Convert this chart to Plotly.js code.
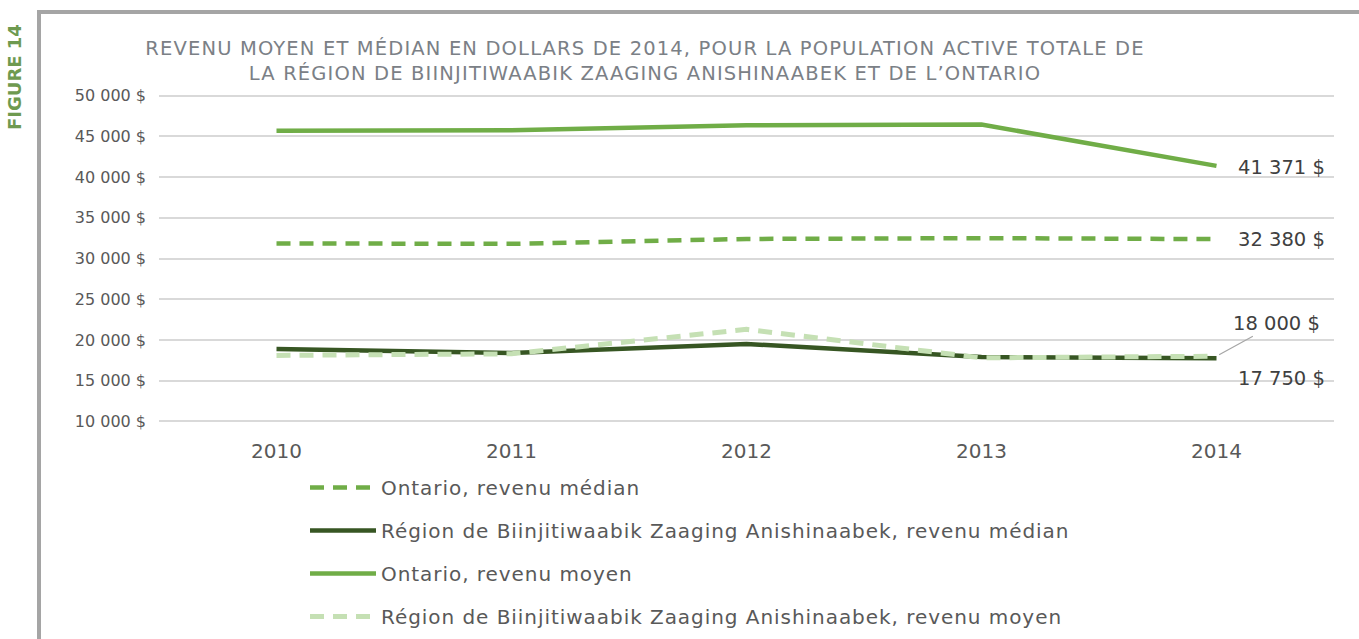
<!DOCTYPE html>
<html><head><meta charset="utf-8">
<script src="https://cdn.plot.ly/plotly-3.0.1.min.js"></script>
<style>
html,body{margin:0;padding:0;background:#fff;}
#wrap{position:relative;width:1359px;height:639px;overflow:hidden;}
#frame{position:absolute;left:37px;top:10px;width:1400px;height:700px;border-left:4px solid #a5a5a5;border-top:4px solid #a5a5a5;box-sizing:border-box;}
#chart{position:absolute;left:0;top:0;width:1359px;height:639px;}
.gtitle{letter-spacing:1.15px;}
.legendtext{letter-spacing:0.95px;}
</style></head>
<body><div id="wrap"><div id="frame"></div><div id="chart"></div></div>
<script>
const years = ['2010','2011','2012','2013','2014'];
const ontarioMedian = [31850, 31800, 32400, 32500, 32380];
const regionMedian = [18900, 18400, 19500, 17900, 17750];
const ontarioMean = [45700, 45750, 46350, 46450, 41371];
const regionMean = [18100, 18300, 21300, 17800, 18000];
const seriesNames = [
  'Ontario, revenu médian',
  'Région de Biinjitiwaabik Zaaging Anishinaabek, revenu médian',
  'Ontario, revenu moyen',
  'Région de Biinjitiwaabik Zaaging Anishinaabek, revenu moyen'
];
const yTicks = [10000,15000,20000,25000,30000,35000,40000,45000,50000];
const yTickText = ['10 000 $','15 000 $','20 000 $','25 000 $','30 000 $','35 000 $','40 000 $','45 000 $','50 000 $'];
const titleText = 'REVENU MOYEN ET MÉDIAN EN DOLLARS DE 2014, POUR LA POPULATION ACTIVE TOTALE DE<br>LA RÉGION DE BIINJITIWAABIK ZAAGING ANISHINAABEK ET DE L’ONTARIO';

const F = '"DejaVu Sans", sans-serif';
const txt = '#595959';

const traces = [
  {x: years, y: ontarioMedian, name: seriesNames[0], mode:'lines', legendgroup:'a',
   line:{color:'#70ad47', width:4.5, dash:'14px,9px'}},
  {x: years, y: regionMedian, name: seriesNames[1], mode:'lines', legendgroup:'b',
   line:{color:'#375623', width:4.5}},
  {x: years, y: ontarioMean, name: seriesNames[2], mode:'lines', legendgroup:'c',
   line:{color:'#70ad47', width:4.5}},
  {x: years, y: regionMean, name: seriesNames[3], mode:'lines', legendgroup:'d',
   line:{color:'#c5e0b4', width:5, dash:'14px,9px'}}
];

function fmt(v){ return String(v).replace(/\B(?=(\d{3})+(?!\d))/g,' ') + ' $'; }

const PT = 94, PB = 423, PH = PB - PT;
const layout = {
  width:1359, height:639,
  margin:{l:159, r:25, t:PT, b:639-PB, autoexpand:false},
  paper_bgcolor:'rgba(0,0,0,0)', plot_bgcolor:'rgba(0,0,0,0)',
  font:{family:F, color:txt},
  title:{text:titleText, font:{family:F, size:19.5, color:'#7b8086'},
    xref:'container', x:645/1359, xanchor:'center', yref:'container', y:1-55/639, yanchor:'top'},
  xaxis:{type:'category', range:[-0.5,4.5], showgrid:false, zeroline:false, showline:false,
    ticks:'', tickfont:{size:20, color:txt, family:F}, ticklabelstandoff:14, fixedrange:true},
  yaxis:{range:[9800,50200], tickvals:yTicks, ticktext:yTickText, showgrid:true,
    gridcolor:'#d9d9d9', gridwidth:2, zeroline:false, showline:false, ticks:'',
    tickfont:{size:16, color:txt, family:F}, ticklabelstandoff:12, fixedrange:true},
  showlegend:true,
  legend:{orientation:'v', xref:'paper', x:(305-159)/1175, xanchor:'left',
    yref:'paper', y:-(468-PB)/PH, yanchor:'top',
    font:{size:20, color:txt, family:F}, tracegroupgap:14, itemwidth:66, bgcolor:'rgba(0,0,0,0)'},
  annotations:[
    {xref:'x', yref:'y', x:4, y:ontarioMean[4], text:fmt(ontarioMean[4]), showarrow:false,
     xanchor:'left', xshift:19, yshift:-2, font:{size:19.5, color:'#404040'}},
    {xref:'x', yref:'y', x:4, y:ontarioMedian[4], text:fmt(ontarioMedian[4]), showarrow:false,
     xanchor:'left', xshift:19, yshift:0, font:{size:19.5, color:'#404040'}},
    {xref:'x', yref:'y', x:4, y:regionMean[4], text:fmt(regionMean[4]), showarrow:true,
     arrowhead:0, arrowwidth:1.2, arrowcolor:'#a6a6a6', ax:60, ay:-33, standoff:3,
     font:{size:19.5, color:'#404040'}},
    {xref:'x', yref:'y', x:4, y:regionMedian[4], text:fmt(regionMedian[4]), showarrow:false,
     xanchor:'left', xshift:19, yshift:-20, font:{size:19.5, color:'#404040'}},
    {xref:'paper', yref:'paper', x:(15-159)/1175, y:(PB-77)/PH, text:'<b>FIGURE 14</b>',
     textangle:-90, showarrow:false, xanchor:'center', yanchor:'middle',
     font:{size:18, color:'#6e9a50', family:F}}
  ]
};
Plotly.newPlot('chart', traces, layout, {displayModeBar:false, staticPlot:true});
</script></body></html>
